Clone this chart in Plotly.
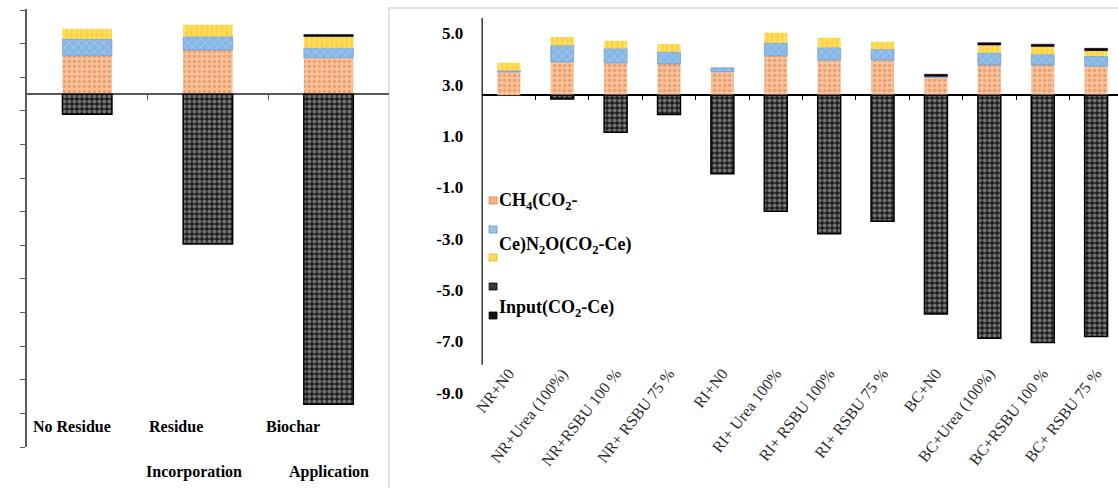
import plotly.graph_objects as go

W, H = 1118, 488

# ---------------- data ----------------
treatments = ["NR+N0", "NR+Urea (100%)", "NR+RSBU 100 %", "NR+ RSBU 75 %",
              "RI+N0", "RI+ Urea 100%", "RI+ RSBU 100%", "RI+ RSBU 75 %",
              "BC+N0", "BC+Urea (100%)", "BC+RSBU 100 %", "BC+ RSBU 75 %"]
ch4 = [0.91, 1.30, 1.26, 1.22, 0.92, 1.53, 1.37, 1.37, 0.70, 1.18, 1.18, 1.14]
n2o = [0.06, 0.65, 0.56, 0.48, 0.15, 0.52, 0.49, 0.42, 0.04, 0.48, 0.42, 0.39]
third = [0.30, 0.32, 0.30, 0.30, 0.00, 0.39, 0.38, 0.30, 0.00, 0.30, 0.30, 0.21]
inputs = [0, 0, 0, 0, 0, 0, 0, 0, 0.08, 0.09, 0.09, 0.09]
negative = [0.0, -0.14, -1.44, -0.75, -3.05, -4.51, -5.39, -4.90, -8.51, -9.45, -9.62, -9.38]

groups = ["No Residue", "Residue Incorporation", "Biochar Application"]
g_ch4 = [1.14, 1.31, 1.08]
g_n2o = [0.50, 0.40, 0.30]
g_third = [0.30, 0.35, 0.33]
g_inputs = [0, 0, 0.06]
g_negative = [-0.60, -4.46, -9.23]

y_tick_labels = [5.0, 3.0, 1.0, -1.0, -3.0, -5.0, -7.0, -9.0]
y_label_offset = 2.58          # printed labels sit 2.58 units above the data value
left_tick_vals = [v + 0.5 for v in range(-11, 3)]

legend_labels = ["CH<sub>4</sub>(CO<sub>2</sub>-", "Ce)N<sub>2</sub>O(CO<sub>2</sub>-Ce)",
                 "Input(CO<sub>2</sub>-Ce)"]
group_label_lines = [["No Residue", "Residue", "Biochar"], ["", "Incorporation", "Application"]]

# ---------------- styles ----------------
SERIF = "Liberation Serif"
styles = {
    "ch4": dict(color="#F6BC94", pattern=dict(shape=".", bgcolor="#F7C29C", fgcolor="#DF7A38",
                                                 size=5, solidity=0.35), line=dict(width=0)),
    "n2o": dict(color="#9DC3E6", pattern=dict(shape="x", bgcolor="#86B6E4", fgcolor="#D4E6F7",
                                                 size=6, solidity=0.25),
                line=dict(width=0.6, color="#5B8FCF")),
    "third": dict(color="#FFD54F", pattern=dict(shape="|", bgcolor="#FFD23F", fgcolor="#FFF0A8",
                                                   size=5, solidity=0.35), line=dict(width=0)),
    "input": dict(color="#000000", line=dict(width=0.5, color="#000000")),
    "neg": dict(color="#222222", pattern=dict(shape=".", bgcolor="#1E1E1E", fgcolor="#C8C8C8",
                                                 size=5, solidity=0.5),
                line=dict(width=1.5, color="#000000")),
}

fig = go.Figure()

def nz(vals):
    # zero-height segments are not drawn (avoids stray outlines)
    return [v if v else None for v in vals]

def add_stack(x, series, xa, ya, width):
    for key, vals in series:
        fig.add_trace(go.Bar(x=x, y=nz(vals), marker=styles[key], width=width,
                             xaxis=xa, yaxis=ya, showlegend=False, hoverinfo="skip"))

add_stack(groups, [("ch4", g_ch4), ("n2o", g_n2o), ("third", g_third),
                   ("input", g_inputs), ("neg", g_negative)], "x", "y", 0.41)
add_stack(treatments, [("ch4", ch4), ("n2o", n2o), ("third", third),
                       ("input", inputs), ("neg", negative)], "x2", "y2", 0.43)

# dummy traces so the overlay tick axes are rendered
fig.add_trace(go.Scatter(x=[0.5], y=[0], xaxis="x3", yaxis="y", mode="markers",
                         marker=dict(opacity=0), showlegend=False, hoverinfo="skip"))
fig.add_trace(go.Scatter(x=[0.5], y=[0], xaxis="x4", yaxis="y2", mode="markers",
                         marker=dict(opacity=0), showlegend=False, hoverinfo="skip"))

def px_x(p):
    return p / W

def px_y(p):
    return 1 - p / H

# left panel geometry
L_dom_x = [px_x(18), px_x(383)]
L_dom_y = [px_y(447), px_y(9)]
L_range = [-10.5, 2.53]
# right panel geometry
R_dom_x = [px_x(477), 1.0]
R_dom_y = [px_y(405), px_y(18)]
R_range = [-12.05, 3.01]
R_xrange = [-0.5, 11.41]

def zero_pos(dom, rng):
    return dom[0] + (0 - rng[0]) / (rng[1] - rng[0]) * (dom[1] - dom[0])

AX = "#595959"
fig.update_layout(
    width=W, height=H, margin=dict(l=0, r=0, t=0, b=0),
    paper_bgcolor="white", plot_bgcolor="rgba(0,0,0,0)",
    barmode="relative", showlegend=False,
    xaxis=dict(domain=L_dom_x, range=[-0.5, 2.5], showticklabels=False, ticks="",
               showline=False, showgrid=False, zeroline=False, anchor="y"),
    yaxis=dict(domain=L_dom_y, range=L_range, tickvals=left_tick_vals, showticklabels=False,
               ticks="outside", ticklen=5, tickcolor=AX, tickwidth=1.2,
               showline=True, linecolor=AX, linewidth=1.5, showgrid=False,
               zeroline=True, zerolinecolor=AX, zerolinewidth=1.5, anchor="x"),
    xaxis3=dict(overlaying="x", anchor="free", position=zero_pos(L_dom_y, L_range),
                range=[-0.5, 2.5], tickvals=[0.5, 1.5], showticklabels=False,
                ticks="outside", ticklen=5, tickcolor=AX, tickwidth=1.2,
                showline=False, showgrid=False, zeroline=False),
    xaxis2=dict(domain=R_dom_x, range=R_xrange, anchor="free", position=px_y(360),
                tickangle=-52, ticks="", showline=False, showgrid=False, zeroline=False,
                tickfont=dict(family=SERIF, size=16, color="#2a2a2a")),
    yaxis2=dict(domain=R_dom_y, range=R_range, anchor="x2",
                tickvals=[v - y_label_offset for v in y_tick_labels],
                ticktext=[f"{v:.1f}" for v in y_tick_labels],
                tickfont=dict(family=SERIF, size=17, color="black", weight="bold"),
                ticks="", ticklabelstandoff=18, showline=False, showgrid=False,
                zeroline=True, zerolinecolor="black", zerolinewidth=1.5),
    xaxis4=dict(overlaying="x2", anchor="free", position=zero_pos(R_dom_y, R_range),
                range=R_xrange, tickvals=[i + 0.5 for i in range(11)], showticklabels=False,
                ticks="outside", ticklen=4, tickcolor="black", tickwidth=1.2,
                showline=False, showgrid=False, zeroline=False),
)

shapes = [
    # right chart area border
    dict(type="rect", xref="paper", yref="paper", x0=px_x(383), x1=1.01, y0=-0.02, y1=px_y(8),
         line=dict(color="#D9D9D9", width=1.5), fillcolor="rgba(0,0,0,0)", layer="below"),
    # right y axis line (stops above the lowest tick label)
    dict(type="line", xref="x2 domain", yref="y2", x0=0, x1=0, y0=-10.48, y1=R_range[1],
         line=dict(color="black", width=1.2)),
]
# legend swatches
swatches = [(197, "#F4B183", "#E8844A"), (226, "#9DC3E6", "#5B8FCF"), (254, "#FFD966", "#E6B800"),
            (283, "#3A3A3A", "#000000"), (312, "#111111", "#000000")]
for top, fill, edge in swatches:
    shapes.append(dict(type="rect", xref="paper", yref="paper", x0=px_x(484), x1=px_x(492),
                       y0=px_y(top + 7), y1=px_y(top), fillcolor=fill,
                       line=dict(color=edge, width=0.8)))
fig.update_layout(shapes=shapes)

annotations = []
for txt, ypx in zip(legend_labels, [201, 245, 308]):
    annotations.append(dict(text=txt, xref="paper", yref="paper", x=px_x(492), y=px_y(ypx),
                            xanchor="left", yanchor="middle", showarrow=False,
                            font=dict(family=SERIF, size=18, color="black", weight="bold")))
line_x = [[64, 168, 286], [0, 186, 323]]
for row, (texts, xs, ypx) in enumerate(zip(group_label_lines, line_x, [426, 472])):
    for t, xp in zip(texts, xs):
        if not t:
            continue
        annotations.append(dict(text=t, xref="paper", yref="paper", x=px_x(xp), y=px_y(ypx),
                                xanchor="center", yanchor="middle", showarrow=False,
                                font=dict(family=SERIF, size=16, color="black", weight="bold")))
fig.update_layout(annotations=annotations)

fig.write_html("out.html")
